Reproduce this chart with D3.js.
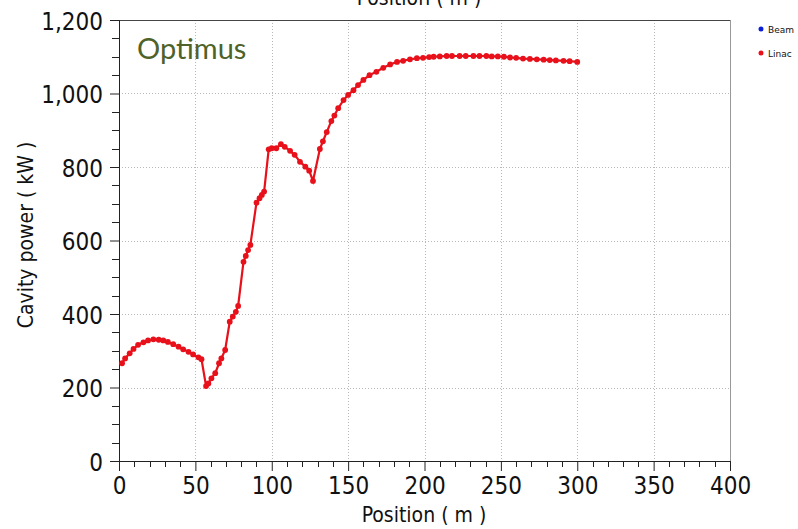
<!DOCTYPE html>
<html><head><meta charset="utf-8">
<script src="https://cdn.jsdelivr.net/npm/d3@7"></script>
<style>
body{margin:0;background:#fff;}
svg{display:block;}
text{font-family:"DejaVu Sans Condensed","DejaVu Sans",Verdana,sans-serif;font-stretch:condensed;fill:#111;}
</style></head>
<body><svg id="c" width="798" height="529"></svg>
<script>
const positions = [2,4,7,9.5,12.5,16,19,22.5,26,29,32,35.5,39,42,45.5,48.5,52,54,57,58.5,60.5,63,65.5,67,69.5,72.5,74.5,76.5,78,81.5,83,84.5,86,90,92,93.5,95,98,100,103,106,108.5,112,115,118.5,122,124.5,127,131.5,133.5,136,139,141,143.5,147,150,153.5,156.5,160,164,168.5,173,177.5,182,186,190.5,195,199,203,206,210,214.5,218,223,227,232,236,240.5,244,248,252,256,260,264.5,269,273.5,278,282,286,291,295,300];
const linacPower = [266,279,293,305,316,323,328,331,330,328,324,318,311,304,297,290,282,277,204,211,225,239,266,279,302,379,393,406,422,542,558,574,588,703,715,724,733,848,851,851,862,855,844,833,814,801,790,762,849,870,895,925,940,960,982,996,1009,1023,1037,1050,1059,1070,1079,1086,1089,1093,1096,1097,1099,1100,1101,1102,1102,1102,1102,1102,1102,1102,1101,1101,1100,1098,1097,1095,1094,1093,1092,1091,1090,1089,1088,1086];
const xTicks = [0,50,100,150,200,250,300,350,400];
const yTicks = [0,200,400,600,800,1000,1200];
const legendNames = ["Beam","Linac"];
const legendColors = ["#0a1fd6","#e8101a"];

const svg = d3.select("#c");
const L=119,R=730,T=20,B=461;
const x = d3.scaleLinear().domain([0,400]).range([L,R]);
const y = d3.scaleLinear().domain([0,1200]).range([B,T]);

// grid
const g = svg.append("g");
g.selectAll(".gx").data(xTicks.slice(1,-1)).enter().append("line")
 .attr("x1",d=>Math.round(x(d))+0.5).attr("x2",d=>Math.round(x(d))+0.5).attr("y1",T).attr("y2",B)
 .attr("stroke","#b8b8b8").attr("stroke-dasharray","1,2");
g.selectAll(".gy").data(yTicks.slice(1,-1)).enter().append("line")
 .attr("y1",d=>Math.round(y(d))+0.5).attr("y2",d=>Math.round(y(d))+0.5).attr("x1",L).attr("x2",R)
 .attr("stroke","#b8b8b8").attr("stroke-dasharray","1,2");

// frame
svg.append("line").attr("x1",L).attr("x2",R).attr("y1",T+0.5).attr("y2",T+0.5).attr("stroke","#444");
svg.append("line").attr("x1",R+0.5).attr("x2",R+0.5).attr("y1",T).attr("y2",B).attr("stroke","#999");

// minor ticks
const xMinor = d3.range(0,401,10).filter(v=>v%50!==0);
const yMinor = d3.range(0,1201,50).filter(v=>v%200!==0);
svg.selectAll(".mx").data(xMinor).enter().append("line")
 .attr("x1",d=>Math.round(x(d))+0.5).attr("x2",d=>Math.round(x(d))+0.5).attr("y1",B).attr("y2",B+6).attr("stroke","#222");
svg.selectAll(".my").data(yMinor).enter().append("line")
 .attr("y1",d=>Math.round(y(d))+0.5).attr("y2",d=>Math.round(y(d))+0.5).attr("x1",L-7).attr("x2",L).attr("stroke","#222");

// axes
const xa = svg.append("g").attr("transform",`translate(0,${B})`)
 .call(d3.axisBottom(x).tickValues(xTicks).tickSize(10).tickPadding(6).tickFormat(d3.format("d")));
const ya = svg.append("g").attr("transform",`translate(${L},0)`)
 .call(d3.axisLeft(y).tickValues(yTicks).tickSize(9).tickPadding(7).tickFormat(d3.format(",")));
[xa,ya].forEach(a=>{a.selectAll("path").attr("stroke","#222");a.selectAll("line").attr("stroke","#222");
 a.selectAll("text").style("font-size","24px").attr("fill","#111")
  .style("font-family","'DejaVu Sans Condensed','DejaVu Sans',Verdana,sans-serif").style("font-stretch","condensed");});
ya.selectAll("text").attr("dy","0.38em");

// labels
svg.append("text").attr("x",424).attr("y",522).attr("text-anchor","middle").style("font-size","21px").text("Position ( m )");
svg.append("text").attr("x",419).attr("y",5).attr("text-anchor","middle").style("font-size","21px").text("Position ( m )");
svg.append("text").attr("transform","translate(33,235) rotate(-90)").attr("text-anchor","middle").style("font-size","21px").text("Cavity power ( kW )");
svg.append("text").attr("x",137).attr("y",59).style("font-size","29px").style("font-family","Lato,'Open Sans',sans-serif").style("font-stretch","normal").style("fill","#4f6228").text("Optimus");

// data
const pts = positions.map((p,i)=>[p,linacPower[i]]);
svg.append("path").datum(pts).attr("fill","none").attr("stroke","#e8101a").attr("stroke-width",2.2)
 .attr("d",d3.line().x(d=>x(d[0])).y(d=>y(d[1])));
svg.selectAll(".pt").data(pts).enter().append("circle")
 .attr("cx",d=>x(d[0])).attr("cy",d=>y(d[1])).attr("r",2.9).attr("fill","#e8101a");

// legend
const lg = svg.selectAll(".lg").data(legendNames).enter().append("g")
 .attr("transform",(d,i)=>`translate(761,${29+i*24})`);
lg.append("circle").attr("r",2.5).attr("fill",(d,i)=>legendColors[i]);
lg.append("text").attr("x",7).attr("y",3.5).style("font-size","9px").style("font-family","'DejaVu Sans',sans-serif").style("font-stretch","normal").attr("fill","#222").text(d=>d);
</script></body></html>
